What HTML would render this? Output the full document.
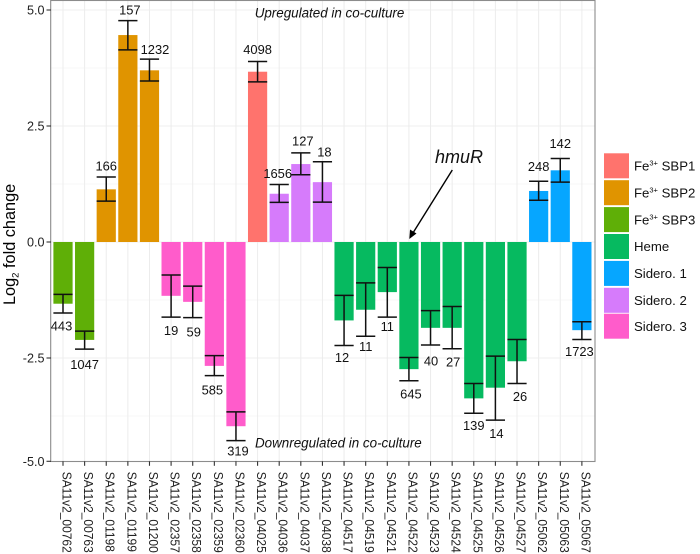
<!DOCTYPE html>
<html>
<head>
<meta charset="utf-8">
<style>
  html, body { margin: 0; padding: 0; background: #fff; }
  svg { display: block; font-family: "Liberation Sans", Arial, sans-serif; }
</style>
</head>
<body>
<svg id="chart" width="700" height="554" viewBox="0 0 700 554" xmlns="http://www.w3.org/2000/svg">
  <rect x="0" y="0" width="700" height="554" fill="#fff"/>
  <g id="grid"></g>
  <g id="bars"></g>
  <g id="errors"></g>
  <rect x="50.7" y="0.5" width="544.3" height="461" fill="none" stroke="#8c8c8c" stroke-width="1.1"/>
  <g id="axes"></g>
  <g id="labels"></g>

  <text transform="translate(15,305) rotate(-90)" font-size="16.3" fill="#000">Log<tspan font-size="9.5" dy="3.5">2</tspan><tspan dy="-3.5"> fold change</tspan></text>

  <text x="254.7" y="17.5" font-size="13.4" font-style="italic" fill="#111">Upregulated in co-culture</text>
  <text x="255" y="447.7" font-size="13.4" font-style="italic" fill="#111">Downregulated in co-culture</text>
  <text x="435" y="163" font-size="18" font-style="italic" fill="#111">hmuR</text>
  <g>
    <line x1="452.3" y1="170" x2="412" y2="234.5" stroke="#000" stroke-width="1.4"/>
    <polygon points="409.3,239 410,229.5 416.5,233.5" fill="#000"/>
  </g>

  <g font-size="13.2" fill="#111">
    <g>
      <rect x="604" y="153.3" width="25" height="25" fill="#FF736D"/>
      <text x="634" y="170.5">Fe<tspan font-size="7.5" dy="-5">3+</tspan><tspan dy="5"> SBP1</tspan></text>
    </g>
    <g>
      <rect x="604" y="180.2" width="25" height="25" fill="#E09400"/>
      <text x="634" y="197.4">Fe<tspan font-size="7.5" dy="-5">3+</tspan><tspan dy="5"> SBP2</tspan></text>
    </g>
    <g>
      <rect x="604" y="207.1" width="25" height="25" fill="#5FAF07"/>
      <text x="634" y="224.3">Fe<tspan font-size="7.5" dy="-5">3+</tspan><tspan dy="5"> SBP3</tspan></text>
    </g>
    <g>
      <rect x="604" y="234" width="25" height="25" fill="#06BA60"/>
      <text x="634" y="251.2">Heme</text>
    </g>
    <g>
      <rect x="604" y="260.9" width="25" height="25" fill="#06A6FF"/>
      <text x="634" y="278.1">Sidero. 1</text>
    </g>
    <g>
      <rect x="604" y="287.8" width="25" height="25" fill="#D67BFB"/>
      <text x="634" y="305">Sidero. 2</text>
    </g>
    <g>
      <rect x="604" y="313.7" width="25" height="25" fill="#FF5CCB"/>
      <text x="634" y="331">Sidero. 3</text>
    </g>
  </g>
</svg>
<script>
const categories = ["SA11v2_00762","SA11v2_00763","SA11v2_01198","SA11v2_01199","SA11v2_01200","SA11v2_02357","SA11v2_02358","SA11v2_02359","SA11v2_02360","SA11v2_04025","SA11v2_04036","SA11v2_04037","SA11v2_04038","SA11v2_04517","SA11v2_04519","SA11v2_04521","SA11v2_04522","SA11v2_04523","SA11v2_04524","SA11v2_04525","SA11v2_04526","SA11v2_04527","SA11v2_05062","SA11v2_05063","SA11v2_05067"];
const groups = ["sbp3","sbp3","sbp2","sbp2","sbp2","s3","s3","s3","s3","sbp1","s2","s2","s2","heme","heme","heme","heme","heme","heme","heme","heme","heme","s1","s1","s1"];
const foldChange = [-1.33,-2.11,1.135,4.46,3.70,-1.16,-1.29,-2.67,-3.97,3.67,1.04,1.68,1.29,-1.69,-1.46,-1.08,-2.74,-1.85,-1.85,-3.37,-3.14,-2.57,1.10,1.545,-1.90];
const errorHigh = [-1.13,-1.92,1.40,4.77,3.94,-0.71,-0.95,-2.45,-3.66,3.89,1.24,1.92,1.73,-1.15,-0.88,-0.55,-2.49,-1.48,-1.39,-3.05,-2.46,-2.10,1.31,1.80,-1.72];
const errorLow = [-1.53,-2.31,0.88,4.14,3.47,-1.62,-1.63,-2.88,-4.28,3.45,0.855,1.45,0.86,-2.23,-2.03,-1.62,-2.99,-2.22,-2.30,-3.69,-3.84,-3.05,0.90,1.29,-2.10];
const counts = ["443","1047","166","157","1232","19","59","585","319","4098","1656","127","18","12","11","11","645","40","27","139","14","26","248","142","1723"];
const yTicks = [5, 2.5, 0, -2.5, -5];
const yTickLabels = ["5.0", "2.5", "0.0", "-2.5", "-5.0"];
const yMinorTicks = [3.75, 1.25, -1.25, -3.75];

const NS = "http://www.w3.org/2000/svg";
const palette = { sbp1: "#FF736D", sbp2: "#E09400", sbp3: "#5FAF07", heme: "#06BA60", s1: "#06A6FF", s2: "#D67BFB", s3: "#FF5CCB" };
const labelShiftX = [-1.5,0,0,2,5.5,0,1,-2,2,0,-1.5,2,2,-2,0,0,2,0.5,1,0,1,3,0,0,-2.5];
const labelGap = [13,15,11,11,10,13,14,14,10,12,11,12,10,12,10,9,13,16,13,12,13,13,15,15,12];

const panelBottom = 461.3;
function xPos(i) { return 63 + 21.62 * i; }
function yPos(v) { return Math.min(242 - 46.4 * v, panelBottom); }
function make(tag, attrs, parent) {
  const el = document.createElementNS(NS, tag);
  for (const k in attrs) el.setAttribute(k, attrs[k]);
  parent.appendChild(el);
  return el;
}

const grid = document.getElementById("grid");
const barsG = document.getElementById("bars");
const errG = document.getElementById("errors");
const axes = document.getElementById("axes");
const labelsG = document.getElementById("labels");

yMinorTicks.forEach(function (v) {
  const l = make("line", { x1: 51, x2: 595, y1: yPos(v), y2: yPos(v), stroke: "#f7f7f7", "stroke-width": 1 }, grid);
  
  
});
yTicks.forEach(function (v, i) {
  const y = yPos(v);
  if (y < panelBottom) {
    const g = make("line", { x1: 51, x2: 595, y1: y, y2: y, stroke: "#efefef", "stroke-width": 1.1 }, grid);
    
    
  }
  const t = make("line", { x1: 46.5, x2: 51, y1: y, y2: y, stroke: "#333", "stroke-width": 1.1 }, axes);
  
  
  const lab = make("text", { x: 44.5, y: y + 4.5, "text-anchor": "end", "font-size": 12.6, fill: "#222" }, axes);
  
  
  lab.textContent = yTickLabels[i];
});

categories.forEach(function (name, i) {
  const x = xPos(i);

  const g = make("line", { x1: x, x2: x, y1: 1, y2: panelBottom, stroke: "#ececec", "stroke-width": 1 }, grid);
  
  

  const y0 = yPos(0), yv = yPos(foldChange[i]);
  const bar = make("rect", { x: x - 9.6, y: Math.min(y0, yv), width: 19.2, height: Math.abs(yv - y0), fill: palette[groups[i]] }, barsG);
  
  

  const yHi = yPos(errorHigh[i]), yLo = yPos(errorLow[i]);
  const eg = make("g", { stroke: "#111", "stroke-width": 1.5, fill: "none" }, errG);
  
  
  make("line", { x1: x, x2: x, y1: yHi, y2: yLo }, eg);
  make("line", { x1: x - 9.6, x2: x + 9.6, y1: yHi, y2: yHi }, eg);
  make("line", { x1: x - 9.6, x2: x + 9.6, y1: yLo, y2: yLo }, eg);

  const up = foldChange[i] >= 0;
  const cy = up ? yHi - labelGap[i] : yLo + labelGap[i];
  const c = make("text", { x: x + labelShiftX[i], y: cy + 4.7, "text-anchor": "middle", "font-size": 12.9, fill: "#111" }, labelsG);
  
  
  c.textContent = counts[i];

  const t = make("line", { x1: x, x2: x, y1: panelBottom, y2: panelBottom + 4.5, stroke: "#333", "stroke-width": 1.1 }, axes);
  
  

  const xl = make("text", { transform: "translate(" + (x - 0.5) + ",471.7) rotate(90) scale(1,1.08)", "font-size": 12, fill: "#222" }, axes);
  
  
  xl.textContent = name;
});
</script>
</body>
</html>
